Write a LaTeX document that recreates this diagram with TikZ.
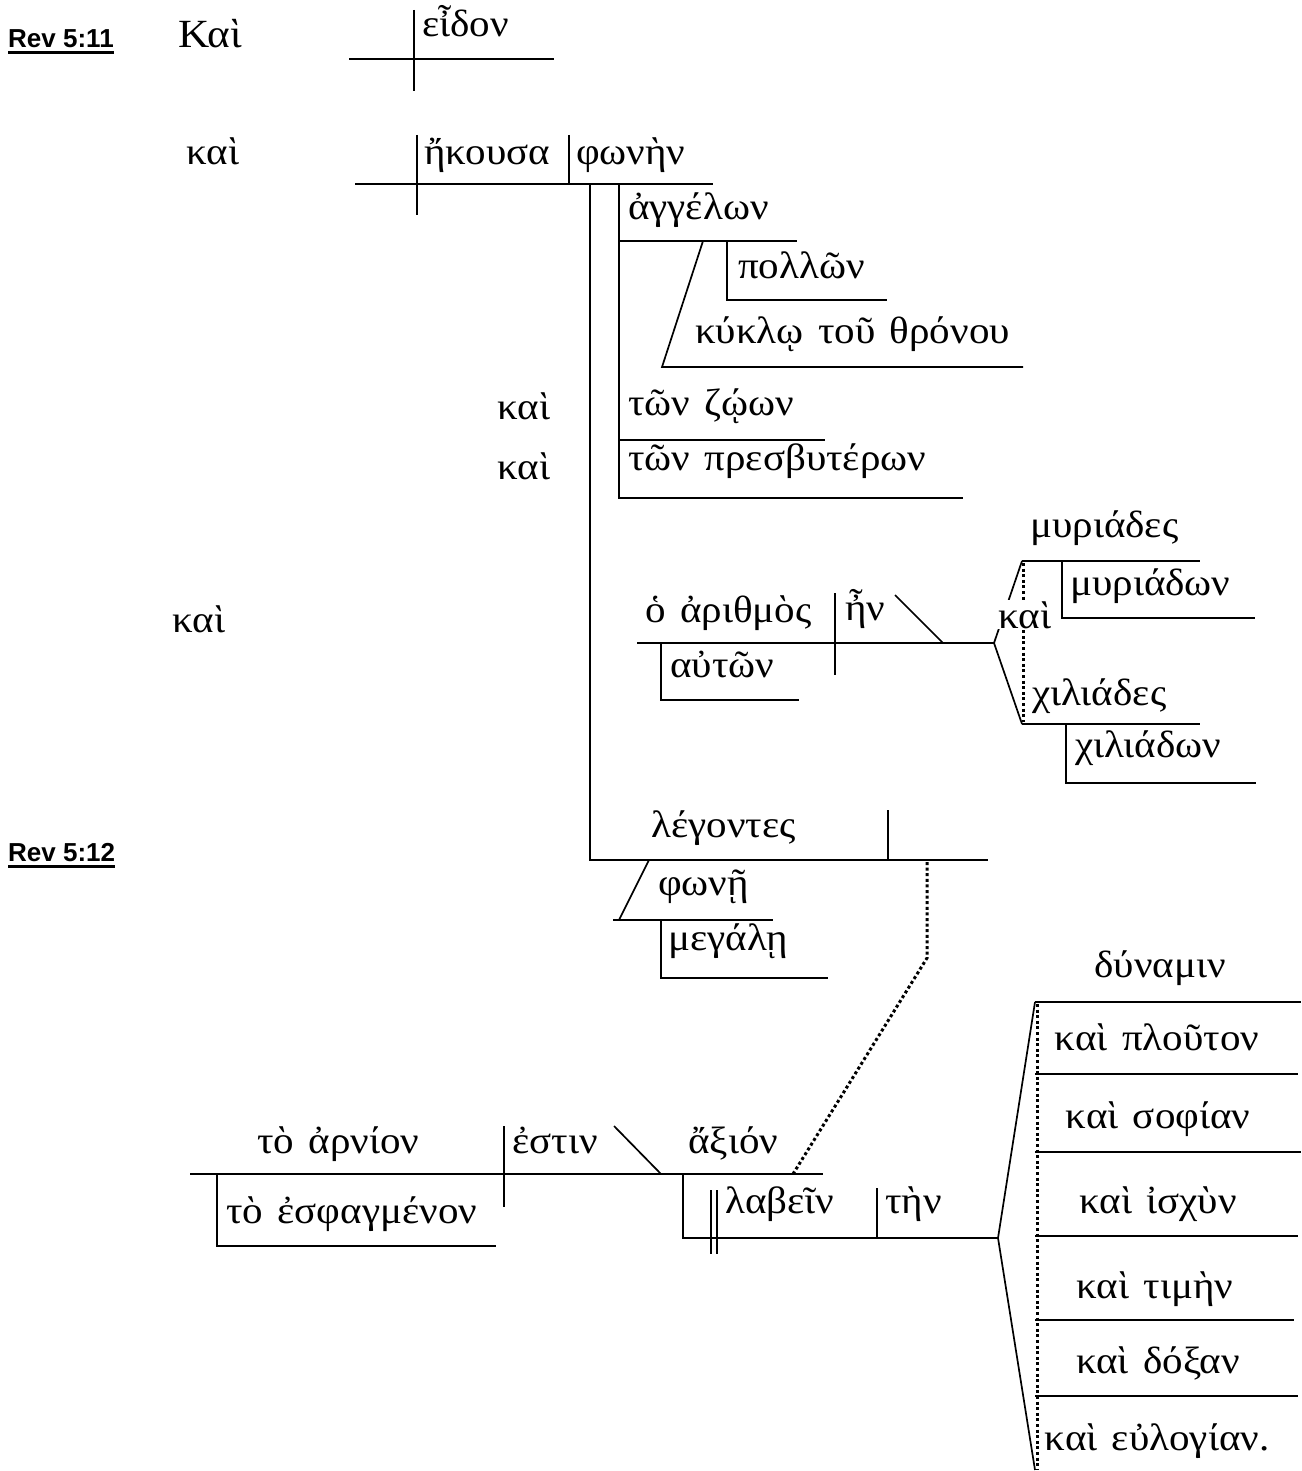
\documentclass[tikz,border=0pt]{standalone}
\usepackage{fontspec}
\setmainfont[FakeStretch=1.08,WordSpace=1.4]{Liberation Serif}
\newfontfamily\revfont{Liberation Sans}
\begin{document}
\begin{tikzpicture}[x=1pt,y=-1pt,
  ln/.style={line width=1.7pt},
  dl/.style={line width=3pt, dash pattern=on 3pt off 2.6pt},
  gw/.style={anchor=base west, inner sep=0pt, font=\fontsize{38}{40}\selectfont},
  gc/.style={anchor=base, inner sep=0pt, font=\fontsize{38}{40}\selectfont},
  rev/.style={anchor=base west, inner sep=0pt, font=\revfont\bfseries\fontsize{26}{28}\selectfont}]
\useasboundingbox (0,0) rectangle (1301,1471);

% ---- Rev 5:11
\node[rev] (r511) at (8,48) {Rev 5:11};
\draw[line width=3pt] ([yshift=-5pt]r511.base west) -- ([yshift=-5pt]r511.base east);
\node[gw, font=\fontsize{40}{42}\selectfont] (kai0) at (178,48) {Καὶ};
\draw[ln] (349,59) -- (554,59);
\draw[ln] (414,10) -- (414,91);
\node[gw] (eidon) at (422,37) {εἶδον};

% ---- ἤκουσα φωνὴν
\node[gw] (kai1) at (186,165) {καὶ};
\draw[ln] (355,184) -- (713,184);
\draw[ln] (417,135) -- (417,215);
\draw[ln] (569,135) -- (569,184);
\node[gw] (ekousa) at (424,165) {ἤκουσα};
\node[gw] (phonen) at (576,165) {φωνὴν};
\draw[ln] (590,184) -- (590,860) -- (988,860);
\draw[ln] (619,184) -- (619,498) -- (963,498);
\draw[ln] (619,241) -- (797,241);
\node[gw] (angelon) at (628,220) {ἀγγέλων};
\draw[ln] (727,241) -- (727,300) -- (887,300);
\node[gw] (pollon) at (738,278) {πολλῶν};
\draw[ln] (703,241) -- (662,367) -- (1023,367);
\node[gw] (kuklo) at (695,343) {κύκλῳ τοῦ θρόνου};
\draw[ln] (619,440) -- (825,440);
\node[gw] (zoon) at (628,415) {τῶν ζῴων};
\node[gw] (presb) at (628,470) {τῶν πρεσβυτέρων};
\node[gw] (kai2) at (497,419) {καὶ};
\node[gw] (kai3) at (497,479) {καὶ};

% ---- ὁ ἀριθμὸς
\node[gw] (kai4) at (172,632) {καὶ};
\draw[ln] (637,643) -- (994,643);
\node[gw] (arithmos) at (645,622) {ὁ ἀριθμὸς};
\draw[ln] (661,643) -- (661,700) -- (799,700);
\node[gw] (auton) at (670,677) {αὐτῶν};
\draw[ln] (835,593) -- (835,675);
\node[gw] (en) at (845,620) {ἦν};
\draw[ln] (895,595) -- (943,643);
\draw[ln] (1022,561) -- (994,643) -- (1022,724);
\draw[ln] (1022,561) -- (1200,561);
\draw[ln] (1022,724) -- (1200,724);
\draw[dl] (1023,563) -- (1023,722);
\node[gw, fill=white, inner sep=1pt] (kai5) at (997,628) {καὶ};
\node[gw] (muriades) at (1030,537) {μυριάδες};
\draw[ln] (1062,561) -- (1062,618) -- (1255,618);
\node[gw] (muriadon) at (1070,595) {μυριάδων};
\node[gw] (chiliades) at (1032,705) {χιλιάδες};
\draw[ln] (1066,724) -- (1066,783) -- (1256,783);
\node[gw] (chiliadon) at (1075,757) {χιλιάδων};

% ---- λέγοντες
\draw[ln] (888,810) -- (888,860);
\node[gw] (legontes) at (651,837) {λέγοντες};
\draw[ln] (649,860) -- (619,920);
\draw[ln] (613,920) -- (773,920);
\node[gw] (phone) at (658,895) {φωνῇ};
\draw[ln] (661,920) -- (661,978) -- (828,978);
\node[gw] (megale) at (668,950) {μεγάλῃ};
\coordinate (dA) at (927,862);
\coordinate (dB) at (927,958);
\coordinate (dC) at (793,1174);
\draw[dl] (dA) -- (dB) -- (dC);

% ---- Rev 5:12
\node[rev] (r512) at (8,861) {Rev 5:12};
\draw[line width=3pt] ([yshift=-5pt]r512.base west) -- ([yshift=-5pt]r512.base east);

\draw[ln] (190,1174) -- (823,1174);
\node[gw] (arnion) at (257,1153) {τὸ ἀρνίον};
\draw[ln] (217,1174) -- (217,1246) -- (496,1246);
\node[gw] (esphag) at (226,1223) {τὸ ἐσφαγμένον};
\draw[ln] (504,1126) -- (504,1207);
\node[gw] (estin) at (512,1153) {ἐστιν};
\draw[ln] (614,1126) -- (661,1174);
\node[gw] (axion) at (688,1153) {ἄξιόν};
\draw[ln] (683,1174) -- (683,1238) -- (998,1238);
\draw[ln] (711,1190) -- (711,1254);
\draw[ln] (717,1190) -- (717,1254);
\node[gw] (labein) at (725,1213) {λαβεῖν};
\draw[ln] (877,1188) -- (877,1238);
\node[gw] (ten) at (885,1213) {τὴν};
\draw[ln] (1035,1002) -- (998,1238) -- (1035,1470);
\foreach \yy/\xe in {1002/1301,1074/1298,1152/1301,1236/1298,1320/1294,1396/1298}
  \draw[ln] (1035,\yy) -- (\xe,\yy);
\draw[dl] (1037,1004) -- (1037,1470);
\node[gc] (dunamin) at (1160,977) {δύναμιν};
\node[gc] (ploutos) at (1157,1050) {καὶ πλοῦτον};
\node[gc] (sophia) at (1158,1128) {καὶ σοφίαν};
\node[gc] (ischus) at (1158,1213) {καὶ ἰσχὺν};
\node[gc] (time) at (1155,1298) {καὶ τιμὴν};
\node[gc] (doxa) at (1158,1373) {καὶ δόξαν};
\node[gc] (eulogia) at (1157,1450) {καὶ εὐλογίαν.};
\end{tikzpicture}
\end{document}
